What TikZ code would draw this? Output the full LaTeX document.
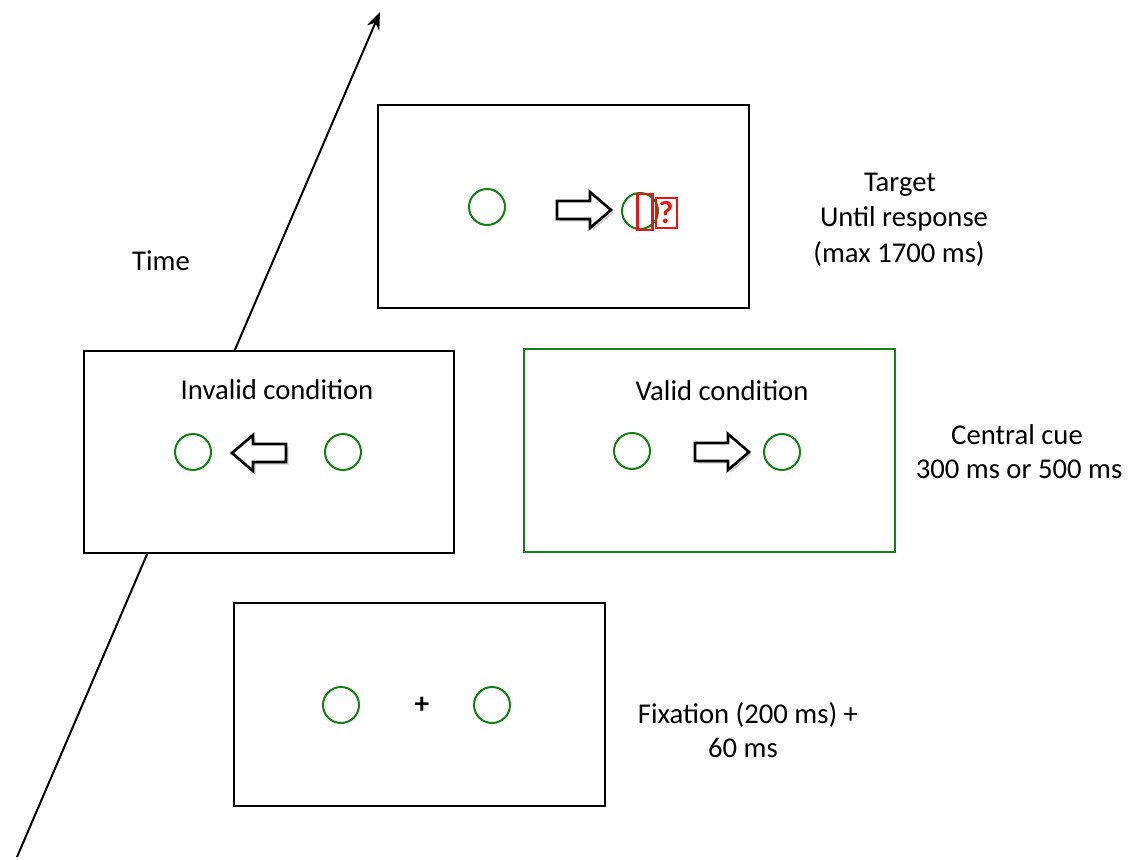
\documentclass[tikz,border=0pt]{standalone}
\usepackage{fontspec}
\setmainfont{Carlito}
\usetikzlibrary{shadows,arrows.meta}
\definecolor{cgreen}{RGB}{20,128,20}
\definecolor{cred}{RGB}{235,20,20}
\tikzset{
  screen/.style={draw=black, line width=1.5pt, fill=white},
  greenscreen/.style={draw=cgreen, line width=1.5pt, fill=white},
  dot/.style={circle, draw=cgreen, line width=1.5pt, minimum size=36*0.75pt, inner sep=0pt},
  lbl/.style={font=\fontsize{21.5}{25}\selectfont, align=center, inner sep=0pt},
  pics/blockarrow/.style={code={
    \draw[line width=2pt, fill=white, line join=miter,
          drop shadow={shadow xshift=2pt, shadow yshift=-2pt, opacity=0.35}]
      (-27,-9) -- (6,-9) -- (6,-18) -- (27,0) -- (6,18) -- (6,9) -- (-27,9) -- cycle;
  }}
}
\begin{document}
\begin{tikzpicture}[x=0.75pt,y=-0.75pt]
\useasboundingbox (0,0) rectangle (1144,859);
% time axis
\coordinate (t0) at (17,857);
\coordinate (t1) at (380,12);
\draw[line width=1.5pt, -{Stealth[length=13pt,width=10pt]}] (t0) -- (t1);
\node[lbl] (time) at (161,261) {Time};
% target screen
\node[screen, minimum width=371*0.75pt, minimum height=203*0.75pt, anchor=north west] (target) at (377,104) {};
\node[dot] (tc1) at (487,207) {};
\node[dot] (tc2) at (640,211) {};
\pic at (584,210) {blockarrow};
\node[draw=cred, line width=1.8pt, minimum width=15*0.75pt, minimum height=36*0.75pt, inner sep=0pt] (tbox) at (645,212) {};
\node[draw=cred, line width=1.5pt, text=cred, font=\fontsize{24}{26}\selectfont\bfseries, inner sep=0pt, minimum width=21*0.75pt, minimum height=30*0.75pt] (tq) at (666,213) {?};
\node[lbl] (tl1) at (900,185) {Target};
\node[lbl] (tl2) at (904,219) {Until response};
\node[lbl] (tl3) at (899,254) {(max 1700 ms)};
% invalid screen
\node[screen, minimum width=370*0.75pt, minimum height=202*0.75pt, anchor=north west] (invalid) at (83,350) {};
\node[lbl] (invt) at (277,390) {Invalid condition};
\node[dot] (ic1) at (193,452) {};
\node[dot] (ic2) at (343,452) {};
\pic[xscale=-1] at (259,453) {blockarrow};
% valid screen
\node[greenscreen, minimum width=371*0.75pt, minimum height=203*0.75pt, anchor=north west] (valid) at (523,348) {};
\node[lbl] (valt) at (722,391) {Valid condition};
\node[dot] (vc1) at (632,451) {};
\node[dot] (vc2) at (782,452) {};
\pic at (722,452) {blockarrow};
\node[lbl] (cl1) at (1017,435) {Central cue};
\node[lbl] (cl2) at (1019,469) {300 ms or 500 ms};
% fixation screen
\node[screen, minimum width=371*0.75pt, minimum height=203*0.75pt, anchor=north west] (fix) at (233,602) {};
\node[dot] (fc1) at (341,705) {};
\node[dot] (fc2) at (492,705) {};
\node[font=\fontsize{22}{24}\selectfont\bfseries, inner sep=0pt] (plus) at (422,705) {+};
\node[lbl] (fl1) at (748,715) {Fixation (200 ms) +};
\node[lbl] (fl2) at (743,748) {60 ms};
\end{tikzpicture}
\end{document}
